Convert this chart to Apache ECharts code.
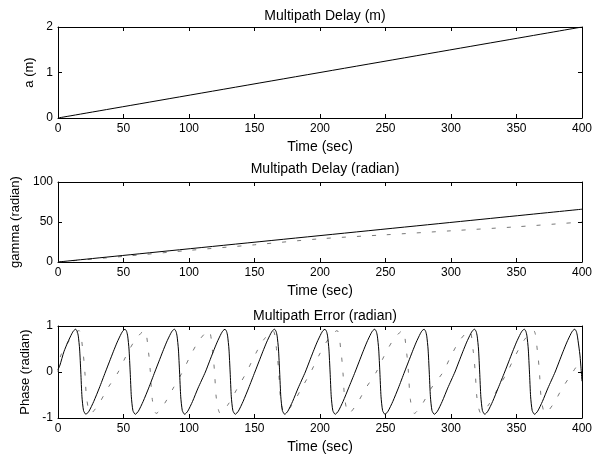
<!DOCTYPE html>
<html>
<head>
<meta charset="utf-8">
<script src="https://cdn.jsdelivr.net/npm/echarts@6/dist/echarts.min.js"></script>
<style>html,body{margin:0;background:#fff}#chart{width:595px;height:460px}</style>
</head>
<body>
<div id="chart"></div>
<script>
// values
var timeTicks = [0, 50, 100, 150, 200, 250, 300, 350, 400];
var titles = ['Multipath Delay (m)', 'Multipath Delay (radian)', 'Multipath Error (radian)'];
var yNames = ['a (m)', 'gamma (radian)', 'Phase (radian)'];
var yRanges = [[0, 2, 1], [0, 100, 50], [-1, 1, 1]]; // min, max, interval

var delayMeters = [[0, 0], [400, 2]];
var gammaTrue = [[0, 0], [400, 66]];
var gammaEst = [[0, 0], [50, 7], [100, 14.5], [150, 21.5], [200, 29], [250, 34], [300, 39], [350, 44], [400, 50]];

var phaseTrue = [
  [0,0.05],[1.5,0.15],[4.5,0.44],[7.5,0.65],[10.5,0.83],[12,0.9],[13.5,0.93],[14.7,0.88],[15.5,0.78],[16.5,0.5],[17.4,0],[18.3,-0.54],[19.5,-0.84],[21.3,-0.92],[23.7,-0.85],[27.3,-0.64],[31.5,-0.35],
  [36.2,0],[39.2,0.22],[42.2,0.44],[45.2,0.65],[48.2,0.83],[49.7,0.9],[51.2,0.93],[52.4,0.88],[53.2,0.78],[54.2,0.5],[55.1,0],[56,-0.54],[57.2,-0.84],[59,-0.92],[61.4,-0.85],[65,-0.64],[69.2,-0.35],
  [73.9,0],[76.9,0.22],[79.9,0.44],[82.9,0.65],[85.9,0.83],[87.4,0.9],[88.9,0.93],[90.1,0.88],[90.9,0.78],[91.9,0.5],[92.8,0],[93.7,-0.54],[94.9,-0.84],[96.7,-0.92],[99.1,-0.85],[102.7,-0.64],[106.9,-0.35],
  [112.5,0],[115.5,0.22],[118.5,0.44],[121.5,0.65],[124.5,0.83],[126,0.9],[127.5,0.93],[128.7,0.88],[129.5,0.78],[130.5,0.5],[131.4,0],[132.3,-0.54],[133.5,-0.84],[135.3,-0.92],[137.7,-0.85],[141.3,-0.64],[145.5,-0.35],
  [150.3,0],[153.3,0.22],[156.3,0.44],[159.3,0.65],[162.3,0.83],[163.8,0.9],[165.3,0.93],[166.5,0.88],[167.3,0.78],[168.3,0.5],[169.2,0],[170.1,-0.54],[171.3,-0.84],[173.1,-0.92],[175.5,-0.85],[179.1,-0.64],[183.3,-0.35],
  [188.8,0],[191.8,0.22],[194.8,0.44],[197.8,0.65],[200.8,0.83],[202.3,0.9],[203.8,0.93],[205,0.88],[205.8,0.78],[206.8,0.5],[207.7,0],[208.6,-0.54],[209.8,-0.84],[211.6,-0.92],[214,-0.85],[217.6,-0.64],[221.8,-0.35],
  [226.8,0],[229.8,0.22],[232.8,0.44],[235.8,0.65],[238.8,0.83],[240.3,0.9],[241.8,0.93],[243,0.88],[243.8,0.78],[244.8,0.5],[245.7,0],[246.6,-0.54],[247.8,-0.84],[249.6,-0.92],[252,-0.85],[255.6,-0.64],[259.8,-0.35],
  [264.5,0],[267.5,0.22],[270.5,0.44],[273.5,0.65],[276.5,0.83],[278,0.9],[279.5,0.93],[280.7,0.88],[281.5,0.78],[282.5,0.5],[283.4,0],[284.3,-0.54],[285.5,-0.84],[287.3,-0.92],[289.7,-0.85],[293.3,-0.64],[297.5,-0.35],
  [303,0],[306,0.22],[309,0.44],[312,0.65],[315,0.83],[316.5,0.9],[318,0.93],[319.2,0.88],[320,0.78],[321,0.5],[321.9,0],[322.8,-0.54],[324,-0.84],[325.8,-0.92],[328.2,-0.85],[331.8,-0.64],[336,-0.35],
  [341,0],[344,0.22],[347,0.44],[350,0.65],[353,0.83],[354.5,0.9],[356,0.93],[357.2,0.88],[358,0.78],[359,0.5],[359.9,0],[360.8,-0.54],[362,-0.84],[363.8,-0.92],[366.2,-0.85],[369.8,-0.64],[374,-0.35],
  [379.5,0],[382.5,0.22],[385.5,0.44],[388.5,0.65],[391.5,0.83],[393,0.9],[394.5,0.93],[395.7,0.88],[396.5,0.78],[398.5,0.35],[400,-0.2]
];

var phaseEst = [
  [0,0],[2,0.35],[9,0.7],[16,0.9],[19,0.45],[20.5,0],[22,-0.6],[25,-0.9],[31,-0.7],[38,-0.35],
  [46,0],[52,0.35],[59,0.7],[66,0.9],[69,0.45],[70.5,0],[72,-0.6],[75,-0.9],[81,-0.7],[88,-0.35],
  [95,0],[101,0.35],[108,0.7],[115,0.9],[118,0.45],[119.5,0],[121,-0.6],[124,-0.9],[130,-0.7],[137,-0.35],
  [144,0],[150,0.35],[157,0.7],[164,0.9],[167,0.45],[168.5,0],[170,-0.6],[173,-0.9],[179,-0.7],[186,-0.35],
  [193,0],[199,0.35],[206,0.7],[213,0.9],[216,0.45],[217.5,0],[219,-0.6],[222,-0.9],[228,-0.7],[235,-0.35],
  [243,0],[249,0.35],[256,0.7],[263,0.9],[266,0.45],[267.5,0],[269,-0.6],[272,-0.9],[278,-0.7],[285,-0.35],
  [294,0],[300,0.35],[307,0.7],[314,0.9],[317,0.45],[318.5,0],[320,-0.6],[323,-0.9],[329,-0.7],[336,-0.35],
  [343,0],[349,0.35],[356,0.7],[363,0.9],[366,0.45],[367.5,0],[369,-0.6],[372,-0.9],[378,-0.7],[385,-0.35],[393,0],[400,0.3]
];

var FONT = "'Liberation Sans', Arial, sans-serif";
var gridTops = [27, 182, 326];
var gridHeights = [91, 80, 92];
var titleTops = [4, 157, 304];
var yNameGaps = [18, 34, 26];

var chart = echarts.init(document.getElementById('chart'));
var grids = [], xAxes = [], yAxes = [], titleList = [];

function frameLine() {
  // onZero off so the top/right copies stay on the box edges
  return { show: true, onZero: false, lineStyle: { color: '#000', width: 1 } };
}

for (var i = 0; i < 3; i++) {
  grids.push({ left: 58, right: 13, top: gridTops[i], height: gridHeights[i] });
  titleList.push({
    text: titles[i], left: 320, top: titleTops[i], textAlign: 'center',
    textStyle: { fontFamily: FONT, fontSize: 14, fontWeight: 'normal', color: '#000' }
  });
  var xBase = {
    type: 'value', gridIndex: i,
    min: timeTicks[0], max: timeTicks[timeTicks.length - 1], interval: timeTicks[1] - timeTicks[0],
    axisLine: frameLine(),
    axisTick: { inside: true, length: 4, lineStyle: { color: '#000' } },
    splitLine: { show: false }
  };
  // bottom axis with labels
  xAxes.push(Object.assign({}, xBase, {
    position: 'bottom',
    name: 'Time (sec)', nameLocation: 'middle', nameGap: 22,
    nameTextStyle: { fontFamily: FONT, fontSize: 14, color: '#000' },
    axisLabel: { fontFamily: FONT, fontSize: 12, color: '#000', margin: 5 }
  }));
  // top axis closes the box
  xAxes.push(Object.assign({}, xBase, { position: 'top', axisLabel: { show: false } }));

  var yBase = {
    type: 'value', gridIndex: i,
    min: yRanges[i][0], max: yRanges[i][1], interval: yRanges[i][2],
    axisLine: frameLine(),
    axisTick: { inside: true, length: 4, lineStyle: { color: '#000' } },
    splitLine: { show: false }
  };
  yAxes.push(Object.assign({}, yBase, {
    position: 'left',
    name: yNames[i], nameLocation: 'middle', nameRotate: 90, nameGap: yNameGaps[i],
    nameTextStyle: { fontFamily: FONT, fontSize: 13, color: '#000' },
    axisLabel: { fontFamily: FONT, fontSize: 12, color: '#000', margin: 5 }
  }));
  yAxes.push(Object.assign({}, yBase, { position: 'right', axisLabel: { show: false } }));
}

function lineSeries(axisIdx, data, dashed) {
  return {
    type: 'line',
    xAxisIndex: axisIdx * 2,
    yAxisIndex: axisIdx * 2,
    data: data,
    showSymbol: false,
    symbol: 'none',
    smooth: dashed ? 0.3 : 0.2,
    lineStyle: dashed
      ? { color: '#555', width: 0.8, type: [4, 11] }
      : { color: '#000', width: 1 },
    z: dashed ? 2 : 3
  };
}

var option = {
  animation: false,
  backgroundColor: '#fff',
  title: titleList,
  grid: grids,
  xAxis: xAxes,
  yAxis: yAxes,
  series: [
    lineSeries(0, delayMeters, false),
    lineSeries(1, gammaEst, true),
    lineSeries(1, gammaTrue, false),
    lineSeries(2, phaseEst, true),
    lineSeries(2, phaseTrue, false)
  ]
};

chart.setOption(option);
</script>
</body>
</html>
